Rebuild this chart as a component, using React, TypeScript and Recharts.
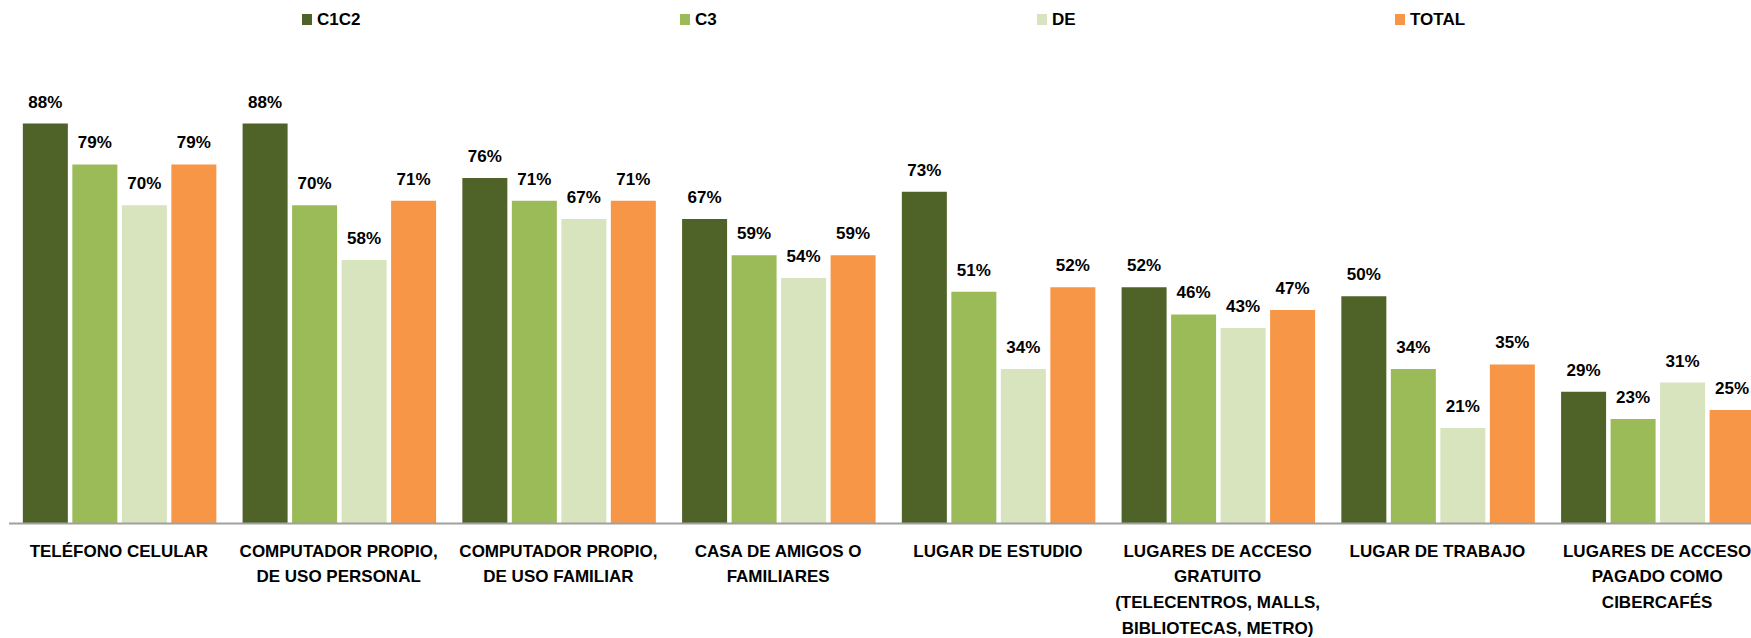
import { Bar, BarChart, LabelList, XAxis, YAxis } from "recharts";

const categories: string[][] = [
  ["TELÉFONO CELULAR"],
  ["COMPUTADOR PROPIO,", "DE USO PERSONAL"],
  ["COMPUTADOR PROPIO,", "DE USO FAMILIAR"],
  ["CASA DE AMIGOS O", "FAMILIARES"],
  ["LUGAR DE ESTUDIO"],
  ["LUGARES DE ACCESO", "GRATUITO", "(TELECENTROS, MALLS,", "BIBLIOTECAS, METRO)"],
  ["LUGAR DE TRABAJO"],
  ["LUGARES DE ACCESO", "PAGADO COMO", "CIBERCAFÉS"],
];

const c1c2 = [88, 88, 76, 67, 73, 52, 50, 29];
const c3 = [79, 70, 71, 59, 51, 46, 34, 23];
const de = [70, 58, 67, 54, 34, 43, 21, 31];
const total = [79, 71, 71, 59, 52, 47, 35, 25];

const seriesNames = ["C1C2", "C3", "DE", "TOTAL"];
const seriesKeys = ["c1c2", "c3", "de", "total"];
const seriesColors = ["#4F6228", "#9BBB59", "#D7E4BD", "#F79646"];

const data = categories.map((lines, i) => ({
  name: lines.join(" "),
  lines,
  c1c2: c1c2[i],
  c3: c3[i],
  de: de[i],
  total: total[i],
}));

const FONT = "'Liberation Sans', Arial, sans-serif";

// legend slots as placed in the original (x of each marker)
const legendX = [302, 680, 1037, 1395];

function CategoryTick({ x, y, index }: { x?: number; y?: number; index?: number }) {
  const lines = categories[index ?? 0] ?? [];
  return (
    <text
      x={x}
      y={(y ?? 0) + 33}
      textAnchor="middle"
      fontFamily={FONT}
      fontWeight="bold"
      fontSize={17}
      fill="#000"
    >
      {lines.map((line, i) => (
        <tspan key={i} x={x} dy={i === 0 ? 0 : 25.8}>
          {line}
        </tspan>
      ))}
    </text>
  );
}

export default function App() {
  return (
    <div
      style={{
        position: "relative",
        width: 1751,
        height: 638,
        overflow: "hidden",
        background: "#fff",
      }}
    >
      <style>{"body{margin:0}"}</style>
      {seriesNames.map((name, i) => (
        <div
          key={name}
          style={{
            position: "absolute",
            left: legendX[i],
            top: 11,
            display: "flex",
            alignItems: "center",
            gap: 5,
            fontFamily: FONT,
            fontWeight: "bold",
            fontSize: 17,
            color: "#000",
            lineHeight: "17px",
          }}
        >
          <span
            style={{
              display: "inline-block",
              width: 10,
              height: 11,
              background: seriesColors[i],
            }}
          />
          {name}
        </div>
      ))}
      <BarChart
        width={1767}
        height={638}
        data={data}
        margin={{ top: 69, right: 0, left: 9, bottom: 0 }}
        barCategoryGap="6.3%"
        barGap={4.5}
      >
        <XAxis
          dataKey="name"
          interval={0}
          height={114.5}
          tickLine={false}
          tickSize={0}
          tickMargin={0}
          axisLine={{ stroke: "#a0a0a0", strokeWidth: 2 }}
          tick={<CategoryTick />}
        />
        <YAxis hide domain={[0, 100]} />
        {seriesKeys.map((key, i) => (
          <Bar
            key={key}
            dataKey={key}
            name={seriesNames[i]}
            fill={seriesColors[i]}
            isAnimationActive={false}
          >
            <LabelList
              dataKey={key}
              position="top"
              offset={16}
              formatter={(v: any) => `${v}%`}
              fontFamily={FONT}
              fontWeight="bold"
              fontSize={17}
              fill="#000"
            />
          </Bar>
        ))}
      </BarChart>
    </div>
  );
}
